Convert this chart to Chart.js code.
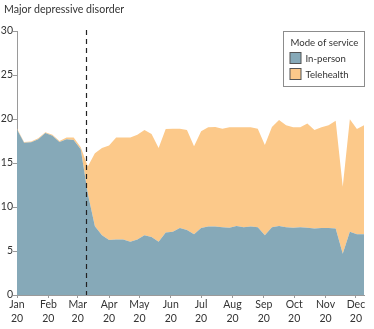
<!DOCTYPE html>
<html>
<head>
<meta charset="utf-8">
<script src="https://cdn.jsdelivr.net/npm/chart.js@4"></script>
<style>
  html, body { margin: 0; padding: 0; background: #fff; }
  #wrap { width: 374px; height: 329px; position: relative; }
</style>
</head>
<body>
<div id="wrap"><canvas id="chart"></canvas></div>
<script>
const title = 'Major depressive disorder';
const legendTitle = 'Mode of service';

// week start, days since Jan 1 2020
const weekDays = [0, 7, 14, 21, 28, 35, 42, 49, 56, 63, 70, 77, 84, 91, 98, 105, 112, 119, 126, 133,
  140, 147, 154, 161, 168, 175, 182, 189, 196, 203, 210, 217, 224, 231, 238, 245, 252, 259, 266, 273,
  280, 287, 294, 301, 308, 315, 322, 329, 336, 343];

const inPerson = [18.8, 17.3, 17.35, 17.7, 18.4, 18.1, 17.4, 17.7, 17.6, 16.55,
  11.5, 7.8, 6.8, 6.25, 6.3, 6.3, 6.06, 6.3, 6.8, 6.6,
  6.06, 7.1, 7.2, 7.6, 7.4, 6.9, 7.6, 7.77, 7.77, 7.7,
  7.65, 7.85, 7.7, 7.77, 7.7, 6.8, 7.7, 7.85, 7.7, 7.65,
  7.7, 7.65, 7.55, 7.6, 7.6, 7.55, 4.7, 7.2, 6.9, 6.9];

const telehealth = [0.12, 0.1, 0.1, 0.1, 0.1, 0.1, 0.1, 0.2, 0.3, 0.25,
  3.1, 8.3, 9.9, 10.75, 11.6, 11.6, 11.84, 11.9, 11.95, 11.7,
  10.64, 11.75, 11.7, 11.3, 11.35, 10.0, 11.0, 11.28, 11.33, 11.2,
  11.4, 11.2, 11.35, 11.28, 11.2, 10.25, 11.4, 12.05, 11.6, 11.4,
  11.35, 11.85, 11.2, 11.45, 11.7, 12.25, 7.6, 12.77, 11.95, 12.4];

const monthDays = [0, 31, 60, 91, 121, 152, 182, 213, 244, 274, 305, 335];
const monthNames = ['Jan', 'Feb', 'Mar', 'Apr', 'May', 'Jun', 'Jul', 'Aug', 'Sep', 'Oct', 'Nov', 'Dec'];
const yearLabel = '20';
const yTicks = [0, 5, 10, 15, 20, 25, 30];
const markerDay = 68;

const font = 'Lato, "Open Sans", sans-serif';
const textColor = '#333';
const axisColor = '#9a9a9a';
const colors = { inPerson: '#86a9b8', telehealth: '#fcc98a' };

const toPoints = (vals) => vals.map((v, i) => ({ x: weekDays[i], y: v }));

// title, dashed marker and the boxed legend
const decor = {
  id: 'decor',
  afterDatasetsDraw(chart) {
    const { ctx, scales: { x, y } } = chart;
    const mx = Math.round(x.getPixelForValue(markerDay)) + 0.5;
    ctx.save();
    ctx.strokeStyle = '#222';
    ctx.lineWidth = 1.2;
    ctx.setLineDash([5, 4]);
    ctx.beginPath();
    ctx.moveTo(mx, y.getPixelForValue(30) - 1);
    ctx.lineTo(mx, y.getPixelForValue(0));
    ctx.stroke();
    ctx.restore();
  },
  afterDraw(chart) {
    const ctx = chart.ctx;
    ctx.save();
    ctx.fillStyle = textColor;
    ctx.font = '10.6px ' + font;
    ctx.textBaseline = 'middle';
    ctx.fillText(title, 4, 10);

    // legend box
    const bx = 283.5, by = 31.5, bw = 81, bh = 55;
    ctx.fillStyle = '#fff';
    ctx.fillRect(bx, by, bw, bh);
    ctx.strokeStyle = '#8c8c8c';
    ctx.lineWidth = 1;
    ctx.strokeRect(bx, by, bw, bh);
    ctx.fillStyle = textColor;
    ctx.font = '9.6px ' + font;
    ctx.fillText(legendTitle, bx + 7, by + 11);
    chart.data.datasets.forEach((ds, i) => {
      const yy = by + 27 + i * 16;
      ctx.fillStyle = ds.backgroundColor;
      ctx.fillRect(bx + 6.5, yy - 6, 11, 11);
      ctx.strokeStyle = '#555';
      ctx.strokeRect(bx + 6.5, yy - 6, 11, 11);
      ctx.fillStyle = textColor;
      ctx.fillText(ds.label, bx + 22, yy);
    });
    ctx.restore();
  }
};

new Chart(document.getElementById('chart'), {
  type: 'line',
  data: {
    datasets: [
      {
        label: 'In-person',
        data: toPoints(inPerson),
        backgroundColor: colors.inPerson,
        borderColor: colors.inPerson,
        borderWidth: 0,
        fill: 'origin',
        pointRadius: 0,
        tension: 0
      },
      {
        label: 'Telehealth',
        data: toPoints(telehealth),
        backgroundColor: colors.telehealth,
        borderColor: colors.telehealth,
        borderWidth: 0,
        fill: '-1',
        pointRadius: 0,
        tension: 0
      }
    ]
  },
  options: {
    responsive: true,
    maintainAspectRatio: false,
    animation: false,
    layout: { padding: { left: 0, right: 10, top: 31, bottom: 0 } },
    plugins: { legend: { display: false }, tooltip: { enabled: false } },
    scales: {
      x: {
        type: 'linear',
        min: 0,
        max: 343,
        afterBuildTicks: (s) => { s.ticks = monthDays.map(v => ({ value: v })); },
        afterFit: (s) => { s.height = 34; },
        ticks: {
          autoSkip: false,
          maxRotation: 0,
          padding: 0,
          color: textColor,
          font: { family: font, size: 10.5, lineHeight: 1.3 },
          callback: (v) => [monthNames[monthDays.indexOf(v)], yearLabel]
        },
        grid: { drawOnChartArea: false, drawTicks: true, tickLength: 3, color: axisColor },
        border: { display: true, color: axisColor }
      },
      y: {
        stacked: true,
        min: 0,
        max: 30,
        afterBuildTicks: (s) => { s.ticks = yTicks.map(v => ({ value: v })); },
        afterFit: (s) => { s.width = 17; },
        ticks: {
          padding: 0,
          color: textColor,
          font: { family: font, size: 10.5 }
        },
        grid: { drawOnChartArea: false, drawTicks: true, tickLength: 4, color: axisColor },
        border: { display: true, color: axisColor }
      }
    }
  },
  plugins: [decor]
});
</script>
</body>
</html>
